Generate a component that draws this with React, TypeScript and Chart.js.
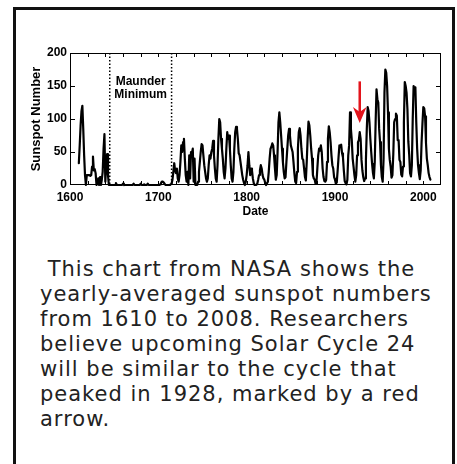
import React, { useEffect, useRef } from 'react';
import { Chart, registerables } from 'chart.js';

Chart.register(...registerables);

// ---- data ----
const startYear = 1610;
const sunspots: number[] = [
  33, 60, 90, 112, 120, 85, 45, 15, 0, 15, // 1610s
  15, 15, 15, 14, 15, 28, 43, 22, 24, 18, // 1620s
  0, 3, 10, 0, 12, 0, 8, 20, 55, 77, // 1630s
  5, 30, 47, 15, 0, 0, 0, 0, 0, 0, // 1640s
  0, 0, 3, 0, 0, 0, 0, 0, 0, 0, // 1650s
  2, 0, 0, 0, 0, 0, 0, 0, 0, 0, // 1660s
  0, 0, 2, 0, 0, 0, 0, 0, 0, 0, // 1670s
  2, 0, 0, 0, 1, 0, 0, 0, 2, 0, // 1680s
  0, 0, 0, 0, 0, 0, 0, 0, 0, 0, // 1690s
  0, 0, 1, 3, 5, 5, 4, 2, 0, 0, // 1700s
  0, 0, 0, 0, 1, 2, 8, 20, 33, 22, // 1710s
  18, 25, 10, 5, 15, 35, 60, 50, 65, 70, // 1720s
  40, 15, 5, 20, 0, 45, 10, 50, 48, 55, // 1730s
  5, 40, 0, 0, 0, 5, 20, 35, 50, 62, // 1740s
  60, 45, 30, 20, 10, 5, 10, 30, 45, 40, // 1750s
  50, 55, 67, 45, 25, 10, 5, 30, 70, 100, // 1760s
  95, 70, 55, 40, 20, 10, 25, 55, 80, 70, // 1770s
  75, 55, 30, 10, 5, 20, 55, 80, 88, 85, // 1780s
  70, 48, 45, 35, 25, 15, 8, 3, 0, 5, // 1790s
  15, 30, 50, 30, 15, 25, 22, 10, 3, 0, // 1800s
  0, 0, 2, 8, 15, 22, 30, 25, 15, 10, // 1810s
  8, 3, 0, 0, 5, 20, 40, 55, 58, 63, // 1820s
  60, 45, 25, 8, 15, 50, 95, 110, 95, 75, // 1830s
  55, 35, 20, 10, 12, 35, 55, 75, 85, 75, // 1840s
  60, 55, 50, 35, 18, 5, 3, 20, 55, 80, // 1850s
  86, 75, 55, 40, 38, 25, 12, 7, 35, 70, // 1860s
  96, 90, 75, 55, 40, 15, 10, 8, 2, 3, // 1870s
  25, 45, 55, 52, 60, 50, 25, 12, 6, 5, // 1880s
  8, 35, 70, 89, 80, 65, 45, 30, 25, 12, // 1890s
  8, 2, 4, 22, 42, 60, 58, 61, 48, 42, // 1900s
  22, 6, 3, 1, 8, 45, 60, 110, 85, 68, // 1910s
  40, 28, 15, 5, 15, 45, 65, 68, 80, 70, // 1920s
  38, 22, 12, 6, 10, 38, 85, 118, 112, 95, // 1930s
  70, 50, 32, 18, 10, 35, 95, 145, 130, 125, // 1940s
  85, 65, 30, 12, 5, 40, 140, 175, 170, 150, // 1950s
  110, 55, 38, 28, 11, 15, 47, 95, 100, 108, // 1960s
  105, 68, 68, 38, 35, 16, 13, 28, 95, 156, // 1970s
  150, 140, 115, 66, 46, 18, 13, 30, 100, 150, // 1980s
  145, 148, 95, 55, 30, 18, 9, 22, 64, 93, // 1990s
  118, 116, 104, 64, 40, 30, 18, 12, 8, // 2000s
];

const xMin = 1600;
const xMax = 2020;
const xStep = 100;
const xMinorStep = 20;
const yMin = 0;
const yMax = 200;
const yStep = 50;
const xTitle = 'Date';
const yTitle = 'Sunspot Number';
const maunderYears = [1645, 1715];
const maunderLabel = ['Maunder', 'Minimum'];
const maunderLabelValues = [157, 137];
const arrowYear = 1928;
const arrowFrom = 157;
const arrowTo = 94;

const captionLines = [
  '\u00a0This chart from NASA shows the',
  'yearly-averaged sunspot numbers',
  'from 1610 to 2008. Researchers',
  'believe upcoming Solar Cycle 24',
  'will be similar to the cycle that',
  'peaked in 1928, marked by a red',
  'arrow.',
];

const FONT = '"Liberation Sans", Arial, Helvetica, sans-serif';

const decorPlugin = {
  id: 'decor',
  beforeDatasetsDraw(chart: any) {
    const { ctx, chartArea: a, scales } = chart;
    const xs = scales.x;
    const ys = scales.y;
    ctx.save();
    // frame
    ctx.strokeStyle = '#000';
    ctx.lineWidth = 1;
    ctx.strokeRect(a.left + 0.5, a.top + 0.5, a.right - a.left - 1, a.bottom - a.top - 1);
    // ticks (inward on all sides)
    ctx.beginPath();
    for (let yr = xMin + xMinorStep; yr < xMax; yr += xMinorStep) {
      const px = Math.round(xs.getPixelForValue(yr)) + 0.5;
      ctx.moveTo(px, a.bottom);
      ctx.lineTo(px, a.bottom - 4);
      ctx.moveTo(px, a.top);
      ctx.lineTo(px, a.top + 4);
    }
    for (let v = yMin + yStep; v < yMax; v += yStep) {
      const py = Math.round(ys.getPixelForValue(v)) + 0.5;
      ctx.moveTo(a.left, py);
      ctx.lineTo(a.left + 5, py);
      ctx.moveTo(a.right, py);
      ctx.lineTo(a.right - 5, py);
    }
    ctx.stroke();
    // dotted Maunder lines
    ctx.setLineDash([1.5, 2]);
    ctx.lineWidth = 1.5;
    ctx.beginPath();
    maunderYears.forEach((yr) => {
      const px = xs.getPixelForValue(yr);
      ctx.moveTo(px, a.top);
      ctx.lineTo(px, a.bottom);
    });
    ctx.stroke();
    ctx.setLineDash([]);
    // label
    ctx.fillStyle = '#000';
    ctx.font = `bold 12px ${FONT}`;
    ctx.textAlign = 'center';
    ctx.textBaseline = 'middle';
    const cx = (xs.getPixelForValue(maunderYears[0]) + xs.getPixelForValue(maunderYears[1])) / 2;
    maunderLabel.forEach((t, i) => {
      ctx.fillText(t, cx, ys.getPixelForValue(maunderLabelValues[i]));
    });
    ctx.restore();
  },
  afterDatasetsDraw(chart: any) {
    const { ctx, scales } = chart;
    const xs = scales.x;
    const ys = scales.y;
    const x = xs.getPixelForValue(arrowYear);
    const yTop = ys.getPixelForValue(arrowFrom);
    const yTip = ys.getPixelForValue(arrowTo);
    ctx.save();
    ctx.strokeStyle = '#e3141c';
    ctx.fillStyle = '#e3141c';
    ctx.lineWidth = 2.5;
    ctx.beginPath();
    ctx.moveTo(x, yTop);
    ctx.lineTo(x, yTip - 10);
    ctx.stroke();
    ctx.beginPath();
    ctx.moveTo(x, yTip);
    ctx.lineTo(x - 6.8, yTip - 16);
    ctx.lineTo(x, yTip - 11);
    ctx.lineTo(x + 6.8, yTip - 16);
    ctx.closePath();
    ctx.fill();
    ctx.restore();
  },
};

function SunspotChart() {
  const ref = useRef<HTMLCanvasElement | null>(null);
  useEffect(() => {
    if (!ref.current) return;
    const points = sunspots.map((v, i) => ({ x: startYear + i, y: v }));
    const tickFont = { family: FONT, size: 12, weight: 'bold' as const };
    const chart = new Chart(ref.current, {
      type: 'line',
      data: {
        datasets: [
          {
            data: points,
            borderColor: '#000',
            borderWidth: 2.2,
            borderJoinStyle: 'round',
            borderCapStyle: 'round',
            pointRadius: 0,
            tension: 0,
            fill: false,
            clip: 4,
          } as any,
        ],
      },
      options: {
        responsive: false,
        animation: false,
        layout: { padding: { top: 53, right: 16, left: 0, bottom: 0 } },
        plugins: { legend: { display: false }, tooltip: { enabled: false } },
        scales: {
          x: {
            type: 'linear',
            min: xMin,
            max: xMax,
            afterFit: (s: any) => {
              s.height = 45;
            },
            grid: { display: false, drawTicks: false },
            border: { display: false },
            ticks: {
              stepSize: xStep,
              includeBounds: false,
              color: '#000',
              font: tickFont,
              padding: 5,
              maxRotation: 0,
              callback: (v: any) => String(v),
            },
            title: {
              display: true,
              text: xTitle,
              color: '#000',
              font: tickFont,
              padding: { top: 0, bottom: 11 },
            },
          },
          y: {
            min: yMin,
            max: yMax,
            afterFit: (s: any) => {
              s.width = 70;
            },
            grid: { display: false, drawTicks: false },
            border: { display: false },
            ticks: {
              stepSize: yStep,
              color: '#000',
              font: tickFont,
              padding: 3,
              callback: (v: any) => String(v),
            },
            title: {
              display: true,
              text: yTitle,
              color: '#000',
              font: { family: FONT, size: 13, weight: 'bold' },
              padding: { top: 29, bottom: 0 },
            },
          },
        },
      } as any,
      plugins: [decorPlugin],
    });
    return () => chart.destroy();
  }, []);
  return (
    <canvas
      ref={ref}
      width={457}
      height={230}
      style={{ position: 'absolute', left: 0, top: 0, width: 457, height: 230 }}
    />
  );
}

export default function App() {
  return (
    <div>
      <div
        style={{
          position: 'absolute',
          left: 13,
          top: 7,
          width: 442,
          height: 480,
          border: '3px solid #111',
          boxSizing: 'border-box',
          background: '#fff',
        }}
      />
      <SunspotChart />
      <div
        style={{
          position: 'absolute',
          left: 40,
          top: 257,
          fontFamily: '"DejaVu Sans", sans-serif',
          fontSize: 21,
          letterSpacing: '1px',
          lineHeight: '25px',
          color: '#222',
          whiteSpace: 'pre',
        }}
      >
        {captionLines.map((l, i) => (
          <div key={i}>{l}</div>
        ))}
      </div>
    </div>
  );
}
